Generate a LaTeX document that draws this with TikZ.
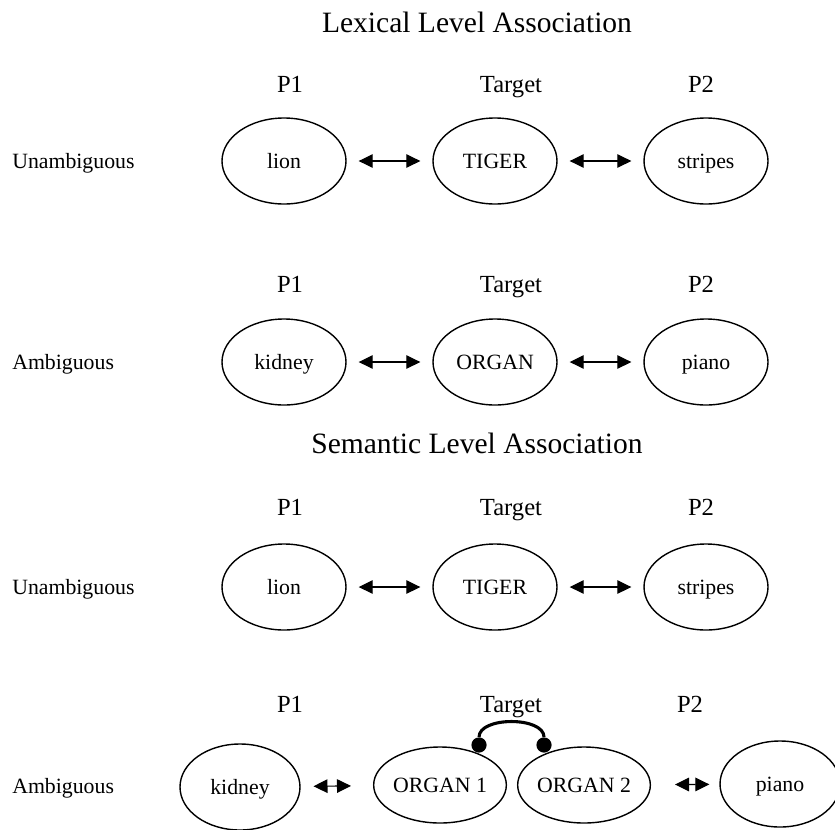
\documentclass[tikz,border=0pt]{standalone}
\usepackage{fontspec}
\setmainfont{Liberation Serif}
\usepackage{tikz}
\usetikzlibrary{arrows.meta}
\usetikzlibrary{shapes.geometric}

\tikzset{
  heading/.style={font=\fontsize{21}{24}\selectfont, anchor=base},
  colname/.style={font=\fontsize{17.5}{20}\selectfont, anchor=base},
  rowname/.style={font=\fontsize{15.5}{18}\selectfont, anchor=west, text height=11pt, text depth=0pt, inner sep=0pt},
  word/.style={draw, ellipse, line width=1pt, minimum width=3.1cm, minimum height=2.15cm, inner sep=0pt,
    font=\fontsize{15.5}{18}\selectfont, text height=11pt, text depth=0pt},
  assoc/.style={{Triangle[length=0.35cm,width=0.34cm]}-{Triangle[length=0.35cm,width=0.34cm]}, line width=0.8pt,
    shorten <=0.3cm, shorten >=0.3cm},
  knob/.style={circle, fill, inner sep=0pt, minimum size=0.38cm}
}

\begin{document}
\begin{tikzpicture}
\clip (0,0) rectangle (20.875,-20.725);

% lexical level
\node[heading] (lexhead) at (11.925,-0.8) {Lexical Level Association};

\node[colname] (p1a) at (7.25,-2.3) {P1};
\node[colname] (ta) at (12.775,-2.3) {Target};
\node[colname] (p2a) at (17.525,-2.3) {P2};
\node[rowname] (unamba) at (0.3,-4.025) {Unambiguous};
\node[word] (liona) at (7.1,-4.025) {lion};
\node[word] (tigera) at (12.375,-4.025) {TIGER};
\node[word] (stripesa) at (17.65,-4.025) {stripes};
\draw[assoc] (liona) -- (tigera);
\draw[assoc] (tigera) -- (stripesa);

\node[colname] (p1b) at (7.25,-7.3) {P1};
\node[colname] (tb) at (12.775,-7.3) {Target};
\node[colname] (p2b) at (17.525,-7.3) {P2};
\node[rowname] (ambb) at (0.3,-9.05) {Ambiguous};
\node[word] (kidneyb) at (7.1,-9.05) {kidney};
\node[word] (organb) at (12.375,-9.05) {ORGAN};
\node[word] (pianob) at (17.65,-9.05) {piano};
\draw[assoc] (kidneyb) -- (organb);
\draw[assoc] (organb) -- (pianob);

% semantic level
\node[heading] (semhead) at (11.925,-11.325) {Semantic Level Association};

\node[colname] (p1c) at (7.25,-12.875) {P1};
\node[colname] (tc) at (12.775,-12.875) {Target};
\node[colname] (p2c) at (17.525,-12.875) {P2};
\node[rowname] (unambc) at (0.3,-14.675) {Unambiguous};
\node[word] (lionc) at (7.1,-14.675) {lion};
\node[word] (tigerc) at (12.375,-14.675) {TIGER};
\node[word] (stripesc) at (17.65,-14.675) {stripes};
\draw[assoc] (lionc) -- (tigerc);
\draw[assoc] (tigerc) -- (stripesc);

\node[colname] (p1d) at (7.25,-17.8) {P1};
\node[colname] (td) at (12.775,-17.8) {Target};
\node[colname] (p2d) at (17.25,-17.8) {P2};
\node[rowname] (ambd) at (0.3,-19.65) {Ambiguous};
\node[word, minimum width=3.0cm] (kidneyd) at (6.0,-19.675) {kidney};
\node[word, minimum height=1.9cm] (organone) at (11.0,-19.625) {ORGAN 1};
\node[word, minimum width=3.0cm, minimum height=1.9cm] (organtwo) at (14.6,-19.625) {ORGAN 2};
\node[word, minimum width=3.0cm] (pianod) at (19.5,-19.6) {piano};
\draw[assoc, shorten <=0.32cm, shorten >=0.55cm] (kidneyd) -- (organone);
\draw[assoc, shorten <=0.6cm, shorten >=0.25cm] (organtwo) -- (pianod);
\node[knob] (knobone) at (11.975,-18.625) {};
\node[knob] (knobtwo) at (13.6,-18.625) {};
\draw[line width=2.2pt] (knobone.north) .. controls +(0,0.52) and +(0,0.52) .. (knobtwo.north);
\end{tikzpicture}
\end{document}
